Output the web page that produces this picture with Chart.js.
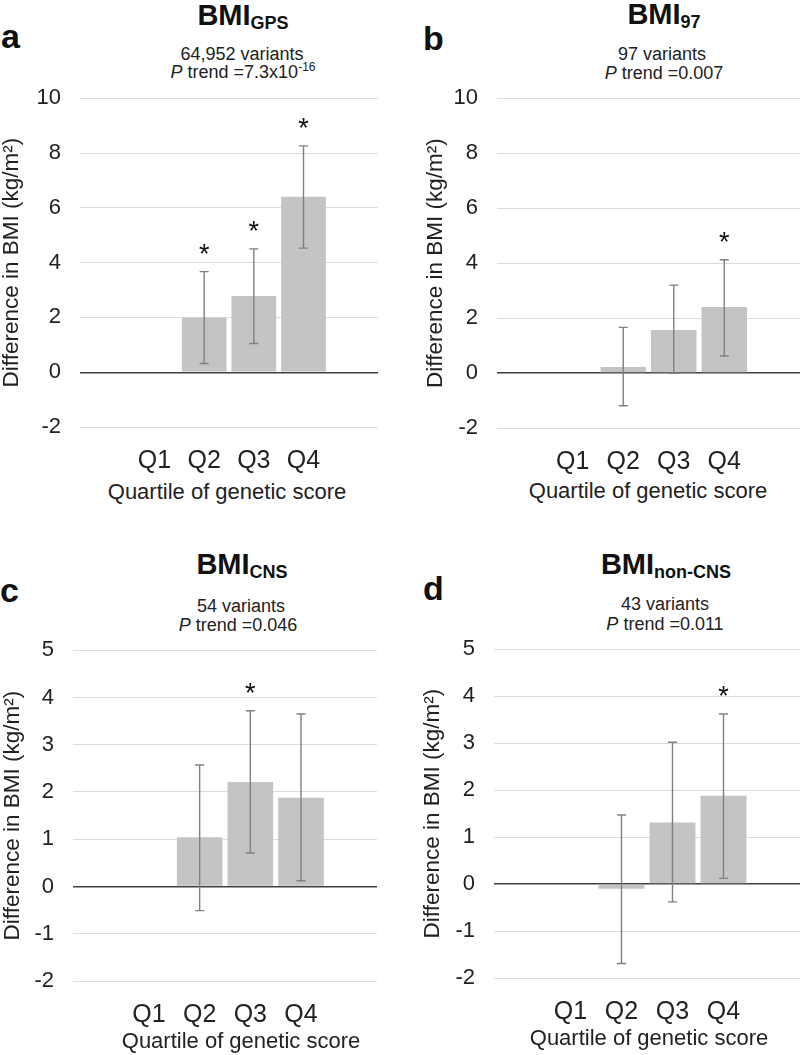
<!DOCTYPE html>
<html>
<head>
<meta charset="utf-8">
<script src="https://cdn.jsdelivr.net/npm/chart.js@4.4.1/dist/chart.umd.min.js"></script>
<style>
  html, body { margin: 0; padding: 0; background: #fff; }
  #wrap { position: relative; width: 800px; height: 1055px; overflow: hidden; font-family: 'Liberation Sans', Arial, Helvetica, sans-serif; color: #111; }
  canvas { position: absolute; }
  .t { position: absolute; white-space: nowrap; line-height: 1; transform: translateX(-50%); }
  .ttl { font-size: 29px; font-weight: bold; }
  .ttl span { font-size: 18px; position: relative; top: 4px; }
  .sub { font-size: 18px; color: #222; }
  .sub sup { font-size: 12px; vertical-align: baseline; position: relative; top: -7px; }
  .let { position: absolute; font-size: 34px; font-weight: bold; line-height: 1; }
  .xt { font-size: 22px; color: #222; }
</style>
</head>
<body>
<div id="wrap">
  <!-- panel a -->
  <div class="let" style="left:1px; top:19px;">a</div>
  <div class="t ttl" style="left:243px; top:1px;">BMI<span>GPS</span></div>
  <div class="t sub" style="left:242px; top:45px;">64,952 variants</div>
  <div class="t sub" style="left:243px; top:63px;"><i>P</i> trend =7.3x10<sup>-16</sup></div>
  <canvas id="ca"></canvas>
  <div class="t xt" style="left:227px; top:481px;">Quartile of genetic score</div>

  <!-- panel b -->
  <div class="let" style="left:423px; top:21px;">b</div>
  <div class="t ttl" style="left:664px; top:0px;">BMI<span>97</span></div>
  <div class="t sub" style="left:662px; top:45px;">97 variants</div>
  <div class="t sub" style="left:664px; top:64px;"><i>P</i> trend =0.007</div>
  <canvas id="cb"></canvas>
  <div class="t xt" style="left:648px; top:480px;">Quartile of genetic score</div>

  <!-- panel c -->
  <div class="let" style="left:0px; top:573px;">c</div>
  <div class="t ttl" style="left:242px; top:550px;">BMI<span>CNS</span></div>
  <div class="t sub" style="left:241px; top:597px;">54 variants</div>
  <div class="t sub" style="left:238px; top:616px;"><i>P</i> trend =0.046</div>
  <canvas id="cc"></canvas>
  <div class="t xt" style="left:241px; top:1030px;">Quartile of genetic score</div>

  <!-- panel d -->
  <div class="let" style="left:423px; top:571px;">d</div>
  <div class="t ttl" style="left:666px; top:550px;">BMI<span>non-CNS</span></div>
  <div class="t sub" style="left:665px; top:595px;">43 variants</div>
  <div class="t sub" style="left:665px; top:615px;"><i>P</i> trend =0.011</div>
  <canvas id="cd"></canvas>
  <div class="t xt" style="left:649px; top:1027px;">Quartile of genetic score</div>
</div>

<script>
// ---- data ----
const categories = ['', 'Q1', 'Q2', 'Q3', 'Q4', ''];

const gpsValues = [null, 0, 2.00, 2.78, 6.40, null];
const gpsLow    = [null, null, 0.32, 1.05, 4.53, null];
const gpsHigh   = [null, null, 3.67, 4.50, 8.26, null];
const gpsSig    = [false, false, true, true, true, false];

const b97Values = [null, 0, 0.22, 1.57, 2.40, null];
const b97Low    = [null, null, -1.19, -0.01, 0.62, null];
const b97High   = [null, null, 1.66, 3.20, 4.12, null];
const b97Sig    = [false, false, false, false, true, false];

const cnsValues = [null, 0, 1.04, 2.21, 1.88, null];
const cnsLow    = [null, null, -0.51, 0.71, 0.12, null];
const cnsHigh   = [null, null, 2.57, 3.72, 3.65, null];
const cnsSig    = [false, false, false, true, false, false];

const ncnsValues = [null, 0, -0.10, 1.31, 1.88, null];
const ncnsLow    = [null, null, -1.69, -0.38, 0.12, null];
const ncnsHigh   = [null, null, 1.47, 3.02, 3.62, null];
const ncnsSig    = [false, false, false, false, true, false];

const yTicksBig = { min: -2, max: 10, step: 2 };
const yTicksSmall = { min: -2, max: 5, step: 1 };

const yTitle = 'Difference in BMI (kg/m\u00B2)';
const FONT = "'Liberation Sans', Arial, Helvetica, sans-serif";

// ---- plugin: error bars + significance stars ----
const errPlugin = {
  id: 'errbars',
  afterDatasetsDraw(chart, args, opts) {
    const ctx = chart.ctx;
    const meta = chart.getDatasetMeta(0);
    const ys = chart.scales.y;
    ctx.save();
    ctx.strokeStyle = '#808080';
    ctx.lineWidth = 1.4;
    for (let i = 0; i < meta.data.length; i++) {
      const lo = opts.low[i], hi = opts.high[i];
      if (lo == null || hi == null) continue;
      const x = meta.data[i].x;
      const yl = ys.getPixelForValue(lo), yh = ys.getPixelForValue(hi);
      ctx.beginPath();
      ctx.moveTo(x, yl); ctx.lineTo(x, yh);
      ctx.moveTo(x - 4.5, yl); ctx.lineTo(x + 4.5, yl);
      ctx.moveTo(x - 4.5, yh); ctx.lineTo(x + 4.5, yh);
      ctx.stroke();
      if (opts.sig[i]) {
        ctx.fillStyle = '#111';
        ctx.font = '27px ' + FONT;
        ctx.textAlign = 'center';
        ctx.textBaseline = 'alphabetic';
        ctx.fillText('*', x, yh - 9);
      }
    }
    ctx.restore();
  }
};

function makeChart(id, geom, values, low, high, sig, yt) {
  const cv = document.getElementById(id);
  const w = geom.plotRight - geom.left;
  const top = geom.plotTop - 20;
  const h = geom.plotBottom - top + 50;
  cv.width = w; cv.height = h;
  cv.style.left = geom.left + 'px';
  cv.style.top = top + 'px';
  cv.style.width = w + 'px';
  cv.style.height = h + 'px';
  const yw = geom.plotLeft - geom.left;
  return new Chart(cv, {
    type: 'bar',
    data: {
      labels: categories,
      datasets: [{
        data: values,
        backgroundColor: '#c4c4c4',
        borderWidth: 0,
        barPercentage: 0.9,
        categoryPercentage: 1
      }]
    },
    options: {
      responsive: false,
      maintainAspectRatio: false,
      animation: false,
      devicePixelRatio: 1,
      layout: { padding: { top: 20, right: 0, bottom: 0, left: 0 } },
      plugins: {
        legend: { display: false },
        tooltip: { enabled: false },
        errbars: { low: low, high: high, sig: sig }
      },
      scales: {
        x: {
          grid: { display: false, drawTicks: false },
          border: { display: false },
          ticks: { font: { family: FONT, size: 25 }, color: '#222', padding: 19, maxRotation: 0, autoSkip: false },
          afterFit: s => { s.height = 50; }
        },
        y: {
          min: yt.min, max: yt.max,
          ticks: { stepSize: yt.step, font: { family: FONT, size: 22 }, color: '#222', padding: 19 },
          grid: {
            drawTicks: false,
            color: c => (c.tick && c.tick.value === 0) ? '#404040' : '#dcdcdc',
            lineWidth: c => (c.tick && c.tick.value === 0) ? 1.4 : 1
          },
          border: { display: false },
          title: { display: true, text: yTitle, font: { family: FONT, size: 22.5, lineHeight: 1.05 }, color: '#222', padding: 0 },
          afterFit: s => { s.width = yw; }
        }
      }
    },
    plugins: [errPlugin]
  });
}

makeChart('ca', { left: 0, plotLeft: 80, plotRight: 378, plotTop: 86, plotBottom: 427 }, gpsValues, gpsLow, gpsHigh, gpsSig, yTicksBig);
makeChart('cb', { left: 424, plotLeft: 497, plotRight: 800, plotTop: 86, plotBottom: 428 }, b97Values, b97Low, b97High, b97Sig, yTicksBig);
makeChart('cc', { left: 1, plotLeft: 73, plotRight: 377, plotTop: 638, plotBottom: 981 }, cnsValues, cnsLow, cnsHigh, cnsSig, yTicksSmall);
makeChart('cd', { left: 421, plotLeft: 494, plotRight: 800, plotTop: 637, plotBottom: 978 }, ncnsValues, ncnsLow, ncnsHigh, ncnsSig, yTicksSmall);
</script>
</body>
</html>
